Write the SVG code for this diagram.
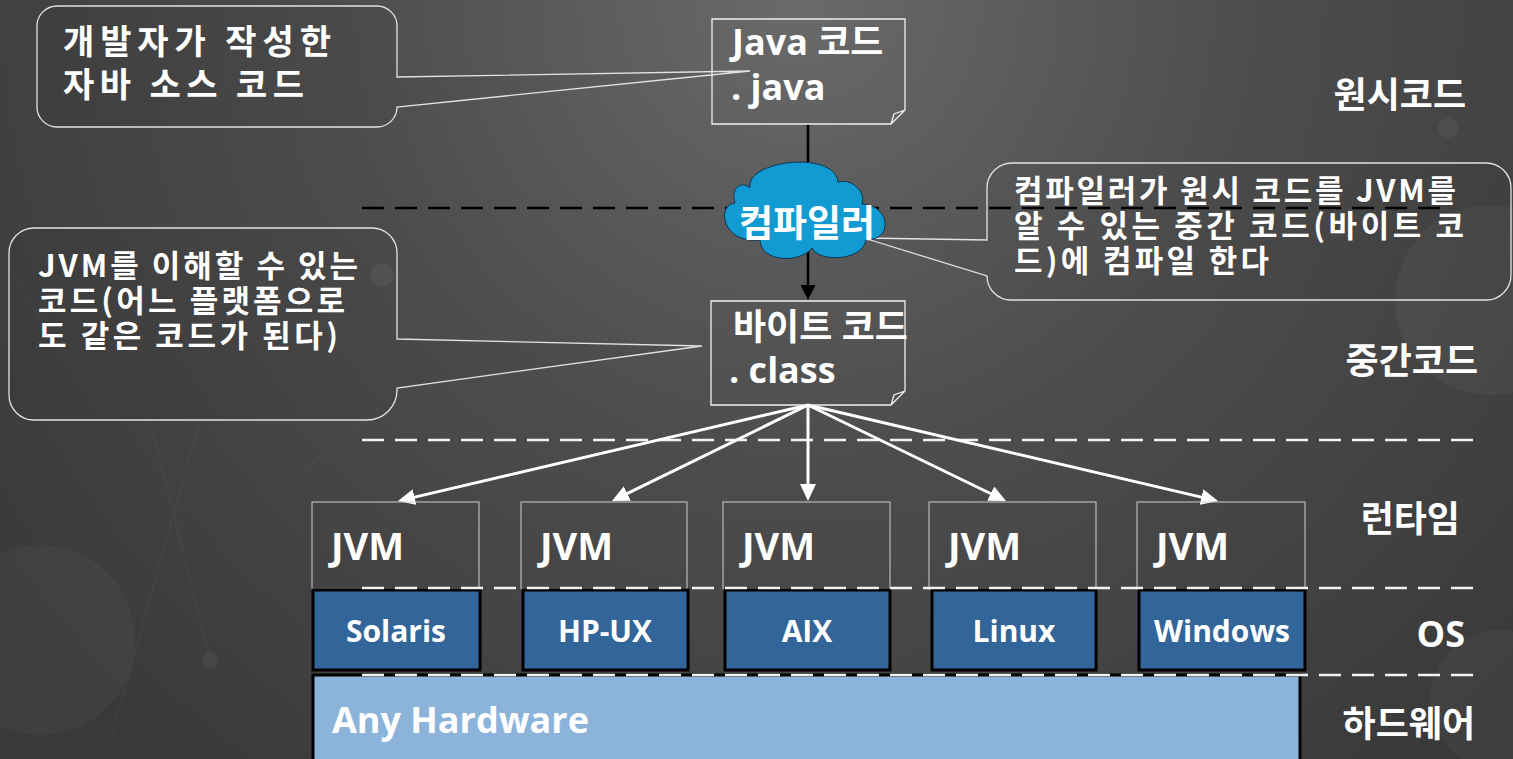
<svg xmlns="http://www.w3.org/2000/svg" width="1513" height="759" viewBox="0 0 1513 759">
<defs>
<radialGradient id="bg" cx="800" cy="0" r="1000" gradientUnits="userSpaceOnUse">
<stop offset="0" stop-color="#6a6a6a"/>
<stop offset="0.45" stop-color="#4d4d4d"/>
<stop offset="1" stop-color="#393939"/>
</radialGradient>
<marker id="ahW" markerUnits="userSpaceOnUse" markerWidth="18" markerHeight="16" refX="2" refY="8" orient="auto">
<path d="M0,0 L17,8 L0,16 z" fill="#ffffff"/>
</marker>
<marker id="ahB" markerUnits="userSpaceOnUse" markerWidth="16" markerHeight="15" refX="2" refY="7.5" orient="auto">
<path d="M0,0 L15,7.5 L0,15 z" fill="#000000"/>
</marker>
<style>
text{font-family:"Open Sans","Noto Sans CJK KR",sans-serif;font-weight:bold;fill:#ffffff}
.ko{font-family:"Noto Sans CJK KR","Open Sans",sans-serif}
.callout{fill:rgba(0,0,0,0.03);stroke:#e2e2e2;stroke-width:1.3}
.note{fill:none;stroke:#f0f0f0;stroke-width:1.3}
.jvm{fill:none;stroke:#d0d0d0;stroke-width:1}
.os{fill:#326599;stroke:#000;stroke-width:3}
.dashW{stroke:#f2f2f2;stroke-width:2.5;stroke-dasharray:22 11;fill:none}
.dashB{stroke:#000;stroke-width:2.5;stroke-dasharray:22 11;fill:none}
.arW{stroke:#ffffff;stroke-width:3;fill:none;marker-end:url(#ahW)}
.lbl{font-size:36px}
.osT{font-size:30px;text-anchor:middle}
.jT{font-size:38px}
.cT{font-size:31px}
</style>
</defs>

<g id="background">
<rect width="1513" height="759" fill="url(#bg)"/>
<circle cx="1490" cy="300" r="95" fill="#ffffff" opacity="0.04"/>
<circle cx="1500" cy="700" r="70" fill="#ffffff" opacity="0.03"/>
<circle cx="40" cy="640" r="95" fill="#ffffff" opacity="0.035"/>
<circle cx="1448" cy="128" r="10" fill="#ffffff" opacity="0.05"/>
<circle cx="382" cy="275" r="12" fill="#ffffff" opacity="0.05"/>
<circle cx="210" cy="660" r="8" fill="#ffffff" opacity="0.05"/>
<path d="M0 255 L105 420 M150 420 L210 660 M110 740 L200 420 M380 410 L290 480" stroke="#ffffff" stroke-width="1.5" opacity="0.035" fill="none"/>
</g>

<g id="separators">
<line class="dashB" x1="362" y1="208" x2="1442" y2="208"/>
<line class="dashW" x1="362" y1="440" x2="1480" y2="440"/>
</g>

<g id="callout-source">
<path class="callout" d="M57 6 H377 A20 20 0 0 1 397 26 V77 L750 71 L397 107 A20 20 0 0 1 377 127 H57 A20 20 0 0 1 37 107 V26 A20 20 0 0 1 57 6 Z"/>
<text class="ko" font-size="34" x="63" y="54" textLength="268" lengthAdjust="spacing">개발자가 작성한</text>
<text class="ko" font-size="34" x="63" y="97" textLength="241" lengthAdjust="spacing">자바 소스 코드</text>
</g>

<g id="callout-bytecode">
<path class="callout" d="M34 228 H372 A25 25 0 0 1 397 253 V339 L702 346 L397 388 V390 A30 30 0 0 1 367 420 H34 A25 25 0 0 1 9 395 V253 A25 25 0 0 1 34 228 Z"/>
<text class="ko cT" x="38" y="277" textLength="320" lengthAdjust="spacing">JVM를 이해할 수 있는</text>
<text class="ko cT" x="38" y="312" textLength="307" lengthAdjust="spacing">코드(어느 플랫폼으로</text>
<text class="ko cT" x="38" y="347" textLength="300" lengthAdjust="spacing">도 같은 코드가 된다)</text>
</g>

<g id="callout-compiler">
<path class="callout" d="M1012 163 H1486 A25 25 0 0 1 1511 188 V275 A25 25 0 0 1 1486 300 H1011 A24 24 0 0 1 987 276 L864 238 L987 240 V188 A25 25 0 0 1 1012 163 Z"/>
<text class="ko cT" x="1014" y="202" textLength="442" lengthAdjust="spacing">컴파일러가 원시 코드를 JVM를</text>
<text class="ko cT" x="1014" y="237" textLength="450" lengthAdjust="spacing">알 수 있는 중간 코드(바이트 코</text>
<text class="ko cT" x="1014" y="272" textLength="255" lengthAdjust="spacing">드)에 컴파일 한다</text>
</g>

<g id="connectors">
<line x1="808" y1="124" x2="808" y2="287" stroke="#000" stroke-width="2.5" marker-end="url(#ahB)"/>
<line class="arW" x1="808" y1="405" x2="412.6" y2="497.6"/>
<line class="arW" x1="808" y1="405" x2="625.5" y2="494.4"/>
<line class="arW" x1="808" y1="405" x2="808" y2="486"/>
<line class="arW" x1="808" y1="405" x2="992.5" y2="494.5"/>
<line class="arW" x1="808" y1="405" x2="1203.4" y2="497.6"/>
</g>

<g id="java-source">
<path class="note" d="M712 19 H905 V110 L891 124 H712 Z M891 124 L894 114 L905 110"/>
<text class="lbl" x="732" y="55">Java 코드</text>
<text class="lbl" x="731" y="100">. java</text>
</g>

<g id="compiler">
<path d="M750 188 C745 160 835 150 838 182 C852 178 866 192 862 204 C890 205 894 240 866 240 C862 262 818 262 812 248 C800 264 760 262 760 240 C722 244 716 205 735 203 C730 188 742 180 750 188 Z" fill="#129bd2" stroke="#0c3550" stroke-width="1"/>
<text class="ko" font-size="37" x="807" y="237" text-anchor="middle">컴파일러</text>
</g>

<g id="bytecode">
<path class="note" d="M711 301 H905 V391 L891 405 H711 Z M891 405 L894 395 L905 391"/>
<text class="lbl" x="733" y="340">바이트 코드</text>
<text class="lbl" x="729" y="383">. class</text>
</g>

<g id="jvm1"><rect class="jvm" x="312" y="502" width="167" height="87"/><text class="jT" x="331" y="560">JVM</text></g>
<g id="jvm2"><rect class="jvm" x="521" y="502" width="166" height="87"/><text class="jT" x="540" y="560">JVM</text></g>
<g id="jvm3"><rect class="jvm" x="723" y="502" width="167" height="87"/><text class="jT" x="742" y="560">JVM</text></g>
<g id="jvm4"><rect class="jvm" x="929" y="502" width="167" height="87"/><text class="jT" x="948" y="560">JVM</text></g>
<g id="jvm5"><rect class="jvm" x="1137" y="502" width="168" height="87"/><text class="jT" x="1156" y="560">JVM</text></g>

<g id="os-solaris"><rect class="os" x="313" y="590" width="167" height="80"/><text class="osT" x="396" y="642">Solaris</text></g>
<g id="os-hpux"><rect class="os" x="523" y="590" width="165" height="80"/><text class="osT" x="605" y="642">HP-UX</text></g>
<g id="os-aix"><rect class="os" x="725" y="590" width="165" height="80"/><text class="osT" x="807" y="642">AIX</text></g>
<g id="os-linux"><rect class="os" x="932" y="590" width="164" height="80"/><text class="osT" x="1014" y="642">Linux</text></g>
<g id="os-windows"><rect class="os" x="1139" y="590" width="166" height="80"/><text class="osT" x="1222" y="642">Windows</text></g>

<g id="hardware">
<path d="M313 761 V675 H1300 V761" fill="#8cb3da" stroke="#000" stroke-width="3"/>
<text font-size="36" x="332" y="733">Any Hardware</text>
</g>

<g id="separators-low">
<line class="dashW" x1="362" y1="588" x2="1480" y2="588"/>
<line class="dashW" x1="362" y1="675" x2="1480" y2="675"/>
</g>

<g id="layer-labels">
<text class="ko lbl" x="1466" y="108" text-anchor="end">원시코드</text>
<text class="ko lbl" x="1478" y="374" text-anchor="end">중간코드</text>
<text class="ko lbl" x="1460" y="532" text-anchor="end">런타임</text>
<text class="lbl" x="1465" y="647" text-anchor="end">OS</text>
<text class="ko lbl" x="1475" y="737" text-anchor="end">하드웨어</text>
</g>
</svg>
